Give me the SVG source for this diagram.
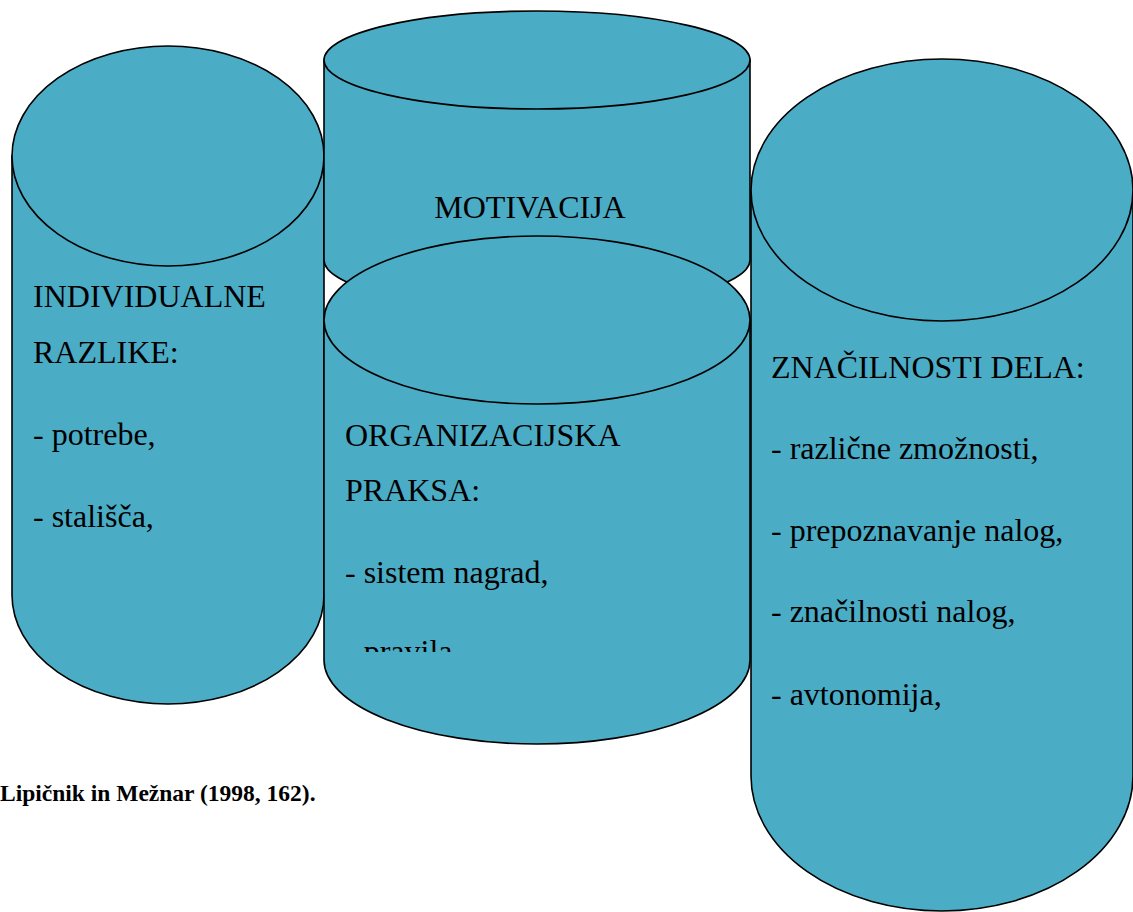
<svg xmlns="http://www.w3.org/2000/svg" width="1133" height="912" viewBox="0 0 1133 912">
<style>
.cyl{fill:#4BACC6;stroke:#000;stroke-width:1.6}
.t{font-family:"Liberation Serif","Times New Roman",serif;font-size:32px;fill:#000}
.cap{font-family:"Liberation Serif","Times New Roman",serif;font-size:23.5px;font-weight:bold;fill:#000}
</style>
<defs>
<clipPath id="clipOrg"><rect x="324" y="236" width="426" height="416"/></clipPath>
</defs>
<rect width="1133" height="912" fill="#fff"/>
<g id="individualne">
<path class="cyl" d="M12,156 L12,595 A156,109 0 0 0 324,595 L324,156 Z"/>
<ellipse class="cyl" cx="168" cy="156" rx="156" ry="110"/>
<text class="t" x="33" y="307">INDIVIDUALNE</text>
<text class="t" x="33" y="363">RAZLIKE:</text>
<text class="t" x="33" y="445">- potrebe,</text>
<text class="t" x="33" y="527">- stališča,</text>
</g>
<g id="motivacija">
<path class="cyl" d="M324,60 L324,260 A213,49 0 0 0 750,260 L750,60 Z"/>
<ellipse class="cyl" cx="537" cy="60" rx="213" ry="49"/>
<text class="t" x="530" y="218" text-anchor="middle">MOTIVACIJA</text>
</g>
<g id="organizacijska">
<path class="cyl" d="M324,320 L324,660 A213,84 0 0 0 750,660 L750,320 Z"/>
<ellipse class="cyl" cx="537" cy="320" rx="213" ry="84"/>
<g clip-path="url(#clipOrg)">
<text class="t" x="345" y="446">ORGANIZACIJSKA</text>
<text class="t" x="345" y="501">PRAKSA:</text>
<text class="t" x="345" y="583">- sistem nagrad,</text>
<text class="t" x="345" y="662">- pravila,</text>
</g>
</g>
<g id="znacilnosti">
<path class="cyl" d="M751,190 L751,776 A191,135 0 0 0 1133,776 L1133,190 Z"/>
<ellipse class="cyl" cx="942" cy="190" rx="191" ry="131"/>
<text class="t" x="771" y="378">ZNAČILNOSTI DELA:</text>
<text class="t" x="771" y="459">- različne zmožnosti,</text>
<text class="t" x="771" y="541">- prepoznavanje nalog,</text>
<text class="t" x="771" y="622">- značilnosti nalog,</text>
<text class="t" x="771" y="705">- avtonomija,</text>
</g>
<g id="connectors"></g>
<text class="cap" x="0" y="801">Lipičnik in Mežnar (1998, 162).</text>
</svg>
